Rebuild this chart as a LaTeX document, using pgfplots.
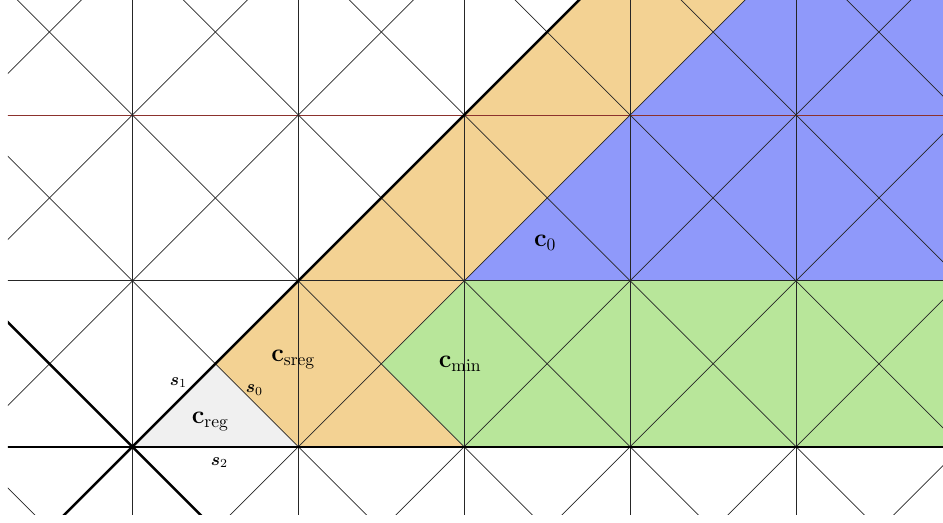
\documentclass[border=0pt]{standalone}
\usepackage{amsmath}
\usepackage{pgfplots}
\pgfplotsset{compat=1.18}
\definecolor{cgray}{HTML}{F0F0F0}
\definecolor{corange}{HTML}{F3D293}
\definecolor{cblue}{HTML}{8F99FA}
\definecolor{cgreen}{HTML}{B8E69A}
\definecolor{cbrown}{RGB}{140,50,45}
\begin{document}
\begin{tikzpicture}
\begin{axis}[x=3.32cm,y=3.32cm,xmin=-0.75,xmax=4.886,ymin=-0.41,ymax=2.693,hide axis,
  thinl/.style={black!85,line width=0.4pt},
  thickl/.style={black,line width=1.4pt}]
% regions
\addplot[fill=cgray,draw=none] coordinates {(0,0) (1,0) (0.5,0.5)} -- cycle;
\addplot[fill=corange,draw=none] coordinates {(0.5,0.5) (1,0) (2,0) (1.5,0.5) (2,1) (4,3) (3,3)} -- cycle;
\addplot[fill=cblue,draw=none] coordinates {(2,1) (6,1) (6,5) (6,5)} -- cycle;
\addplot[fill=cgreen,draw=none] coordinates {(2,0) (6,0) (6,1) (2,1) (1.5,0.5)} -- cycle;
% vertical lines
\addplot[thinl] coordinates {(0,-1) (0,3)};
\addplot[thinl] coordinates {(1,-1) (1,3)};
\addplot[thinl] coordinates {(2,-1) (2,3)};
\addplot[thinl] coordinates {(3,-1) (3,3)};
\addplot[thinl] coordinates {(4,-1) (4,3)};
% horizontal lines
\addplot[thinl] coordinates {(-2,1) (7,1)};
\addplot[cbrown,line width=0.5pt] coordinates {(-2,2) (7,2)};
% diagonals y = x + k
\addplot[thinl] coordinates {(-2,-7) (7,2)};
\addplot[thinl] coordinates {(-2,-6) (7,3)};
\addplot[thinl] coordinates {(-2,-5) (7,4)};
\addplot[thinl] coordinates {(-2,-4) (7,5)};
\addplot[thinl] coordinates {(-2,-3) (7,6)};
\addplot[thinl] coordinates {(-2,-1) (7,8)};
\addplot[thinl] coordinates {(-2,0) (7,9)};
\addplot[thinl] coordinates {(-2,1) (7,10)};
% diagonals y = -x + k
\addplot[thinl] coordinates {(-2,1) (7,-8)};
\addplot[thinl] coordinates {(-2,3) (7,-6)};
\addplot[thinl] coordinates {(-2,4) (7,-5)};
\addplot[thinl] coordinates {(-2,5) (7,-4)};
\addplot[thinl] coordinates {(-2,6) (7,-3)};
\addplot[thinl] coordinates {(-2,7) (7,-2)};
\addplot[thinl] coordinates {(-2,8) (7,-1)};
\addplot[thinl] coordinates {(-2,9) (7,0)};
% thick lines
\addplot[thickl] coordinates {(-2,0) (7,0)};
\addplot[thickl] coordinates {(-2,-2) (7,7)};
\addplot[thickl] coordinates {(-2,2) (7,-7)};
% labels
\node[font=\fontsize{13.8}{16}\selectfont] at (axis cs:2.488,1.229) {$\mathbf{c}_0$};
\node[font=\fontsize{13.8}{16}\selectfont] at (axis cs:1.976,0.50) {$\mathbf{c}_{\mathrm{min}}$};
\node[font=\fontsize{13.8}{16}\selectfont] at (axis cs:0.970,0.524) {$\mathbf{c}_{\mathrm{sreg}}$};
\node[font=\fontsize{13.8}{16}\selectfont] at (axis cs:0.470,0.151) {$\mathbf{c}_{\mathrm{reg}}$};
\node at (axis cs:0.277,0.386) {$\boldsymbol{s}_1$};
\node at (axis cs:0.735,0.343) {$\boldsymbol{s}_0$};
\node at (axis cs:0.524,-0.096) {$\boldsymbol{s}_2$};
\end{axis}
\path (current axis.south west) ++(-0.16cm,-0.16cm) (current axis.north east);
\end{tikzpicture}
\end{document}
